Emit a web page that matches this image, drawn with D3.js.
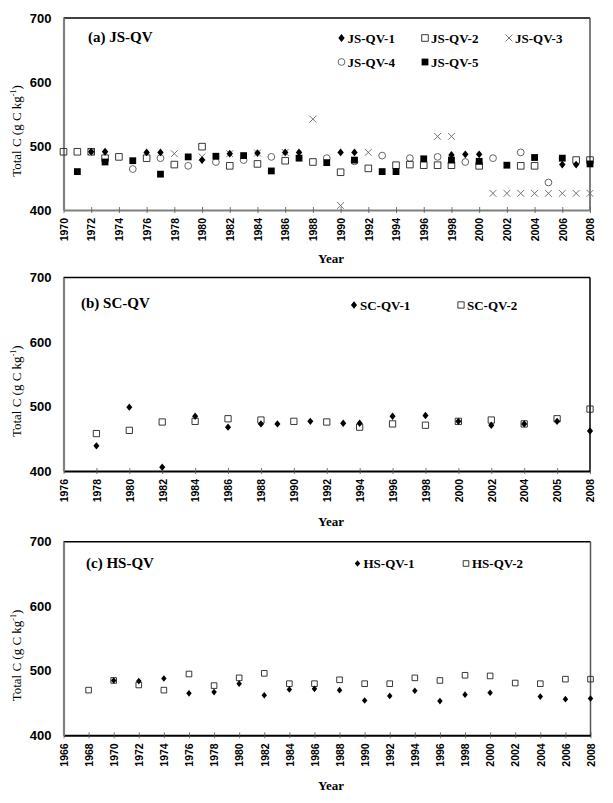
<!DOCTYPE html>
<html>
<head>
<meta charset="utf-8">
<script src="https://cdn.jsdelivr.net/npm/d3@7"></script>
<style>
  html, body { margin: 0; padding: 0; background: #fff; }
  svg { display: block; }
</style>
</head>
<body>
<svg id="chart" width="613" height="803"></svg>
<script>
// ---------- DATA ----------
// Panel (a) JS-QV
const jsQV1 = [[1972,491],[1973,491],[1976,490],[1977,490],[1980,478],[1982,488],[1984,489],[1986,490],[1987,490],[1990,490],[1991,490],[1998,486],[1999,487],[2000,487],[2006,471],[2007,471]];
const jsQV2 = [[1970,491],[1971,491],[1972,491],[1973,481],[1974,483],[1976,481],[1978,471],[1980,499],[1982,469],[1984,472],[1986,477],[1988,475],[1990,459],[1992,465],[1994,470],[1995,471],[1996,470],[1997,470],[1998,470],[2000,469],[2003,469],[2004,469],[2007,478],[2008,478]];
const jsQV3 = [[1972,491],[1978,488],[1980,483],[1982,488],[1984,489],[1986,490],[1988,542],[1990,407],[1992,490],[1997,515],[1998,515],[2001,426],[2002,426],[2003,426],[2004,426],[2005,426],[2006,426],[2007,426],[2008,426]];
const jsQV4 = [[1975,464],[1977,481],[1979,469],[1981,475],[1983,478],[1985,483],[1989,481],[1991,476],[1993,485],[1995,481],[1997,483],[1999,475],[2001,481],[2003,490],[2005,443]];
const jsQV5 = [[1971,460],[1973,475],[1975,477],[1977,456],[1979,483],[1981,484],[1983,485],[1985,461],[1987,481],[1989,474],[1991,478],[1993,460],[1994,460],[1996,480],[1998,478],[2000,476],[2002,470],[2004,482],[2006,481],[2008,472]];
// Panel (b) SC-QV
const scQV1 = [[1978,439],[1980,499],[1982,406],[1984,485],[1986,468],[1988,473],[1989,473],[1991,477],[1993,474],[1994,474],[1996,485],[1998,486],[2000,477],[2002,471],[2004,473],[2006,477],[2008,462]];
const scQV2 = [[1978,458],[1980,463],[1982,476],[1984,477],[1986,481],[1988,479],[1990,477],[1992,476],[1994,468],[1996,473],[1998,471],[2000,477],[2002,479],[2004,473],[2006,481],[2008,496]];
// Panel (c) HS-QV
const hsQV1 = [[1970,485],[1972,484],[1974,488],[1976,465],[1978,467],[1980,480],[1982,462],[1984,471],[1986,472],[1988,470],[1990,454],[1992,461],[1994,469],[1996,453],[1998,463],[2000,466],[2004,460],[2006,456],[2008,457]];
const hsQV2 = [[1968,470],[1970,485],[1972,478],[1974,470],[1976,495],[1978,477],[1980,489],[1982,496],[1984,480],[1986,480],[1988,486],[1990,480],[1992,480],[1994,489],[1996,485],[1998,493],[2000,492],[2002,481],[2004,480],[2006,487],[2008,487]];

// Tick labels
const yTicks = [400, 500, 600, 700];
const ticksA = ["1970","1972","1974","1976","1978","1980","1982","1984","1986","1988","1990","1992","1994","1996","1998","2000","2002","2004","2006","2008"];
const ticksB = ["1976","1978","1980","1982","1984","1986","1988","1990","1992","1994","1996","1998","2000","2002","2004","2005","2008"];
const ticksC = ["1966","1968","1970","1972","1974","1976","1978","1980","1982","1984","1986","1988","1990","1992","1994","1996","1998","2000","2002","2004","2006","2008"];

// ---------- SYMBOLS ----------
function diamondType(hw, hh) {
  return { draw(ctx) { ctx.moveTo(0,-hh); ctx.lineTo(hw,0); ctx.lineTo(0,hh); ctx.lineTo(-hw,0); ctx.closePath(); } };
}
function squareType(h) {
  return { draw(ctx) { ctx.moveTo(-h,-h); ctx.lineTo(h,-h); ctx.lineTo(h,h); ctx.lineTo(-h,h); ctx.closePath(); } };
}
function circleType(r) {
  return { draw(ctx) { ctx.moveTo(r,0); ctx.arc(0,0,r,0,2*Math.PI); } };
}
function xType(h) {
  return { draw(ctx) { ctx.moveTo(-h,-h); ctx.lineTo(h,h); ctx.moveTo(h,-h); ctx.lineTo(-h,h); } };
}
const styles = {
  diamond:  (s) => ({ type: diamondType(3.2*s, 3.9*s), fill: "#000", stroke: "none", sw: 0 }),
  osquare:  (s) => ({ type: squareType(3.3*s), fill: "none", stroke: "#222", sw: 0.9 }),
  fsquare:  (s) => ({ type: squareType(3.4*s), fill: "#000", stroke: "none", sw: 0 }),
  circle:   (s) => ({ type: circleType(3.4*s), fill: "none", stroke: "#555", sw: 0.9 }),
  cross:    (s) => ({ type: xType(3.4*s), fill: "none", stroke: "#666", sw: 0.9 })
};

const svg = d3.select("#chart");
const serif = "'Liberation Serif', 'Times New Roman', serif";
const sans = "'Liberation Sans', Arial, sans-serif";

function drawPanel(cfg) {
  const x = d3.scaleLinear().domain(cfg.xDomain).range([cfg.left, cfg.right]);
  const y = d3.scaleLinear().domain([400, 700]).range([cfg.bottom, cfg.top]);
  const g = svg.append("g");

  // top and right frame
  g.append("line").attr("x1", cfg.left).attr("x2", cfg.right).attr("y1", cfg.top).attr("y2", cfg.top)
    .attr("stroke", "#000").attr("stroke-width", 1.5);
  g.append("line").attr("x1", cfg.right).attr("x2", cfg.right).attr("y1", cfg.top).attr("y2", cfg.bottom)
    .attr("stroke", cfg.rightColor).attr("stroke-width", 1.5);

  // x axis
  const years = cfg.tickLabels.map((d, i) => cfg.xDomain[0] + 2 * i);
  const xAxis = d3.axisBottom(x).tickValues(years).tickFormat((d, i) => cfg.tickLabels[i]).tickSize(3).tickSizeOuter(0);
  const xg = g.append("g").attr("transform", `translate(0,${cfg.bottom})`).call(xAxis);
  xg.select(".domain").attr("stroke", cfg.bottomColor).attr("stroke-width", 2);
  xg.selectAll(".tick line").attr("stroke", "#555").attr("y1", -3).attr("y2", 3).attr("stroke-width", 0.8);
  xg.selectAll(".tick text")
    .attr("transform", "rotate(-90)")
    .attr("x", -8).attr("y", 0).attr("dy", "0.36em")
    .attr("text-anchor", "end")
    .attr("font-family", sans).attr("font-weight", "bold").attr("font-size", 10.5).attr("fill", "#000");

  // y axis
  const yAxis = d3.axisLeft(y).tickValues(yTicks).tickSize(0).tickPadding(12);
  const yg = g.append("g").attr("transform", `translate(${cfg.left},0)`).call(yAxis);
  yg.select(".domain").attr("stroke", "#808080").attr("stroke-width", 2.2);
  yg.selectAll(".tick text").attr("font-family", sans).attr("font-weight", "bold").attr("font-size", 13).attr("fill", "#000");

  // series
  cfg.series.forEach(s => {
    const st = styles[s.marker](cfg.scale);
    const sym = d3.symbol().type(st.type);
    g.append("g").selectAll("path").data(s.data).join("path")
      .attr("transform", d => `translate(${x(d[0])},${y(d[1])})`)
      .attr("d", sym)
      .attr("fill", st.fill).attr("stroke", st.stroke).attr("stroke-width", st.sw);
  });

  // title
  g.append("text").attr("x", cfg.titleX).attr("y", cfg.titleY).attr("font-family", serif)
    .attr("font-weight", "bold").attr("font-size", 15).text(cfg.title);

  // legend
  cfg.legend.forEach(l => {
    const st = styles[l.marker](cfg.scale);
    g.append("path").attr("transform", `translate(${l.x},${l.y})`).attr("d", d3.symbol().type(st.type))
      .attr("fill", st.fill).attr("stroke", st.stroke).attr("stroke-width", st.sw);
    g.append("text").attr("x", l.x + 6).attr("y", l.y).attr("dy", "0.35em").attr("font-family", serif)
      .attr("font-weight", "bold").attr("font-size", 13).text(l.label);
  });

  // y title
  const yt = g.append("text").attr("transform", `translate(16,${(cfg.top + cfg.bottom) / 2 + 17}) rotate(-90)`)
    .attr("text-anchor", "middle").attr("dy", "0.35em").attr("font-family", serif).attr("font-size", 13);
  yt.append("tspan").text("Total C (g C kg");
  yt.append("tspan").attr("font-size", 8).attr("dy", -5).text("-1");
  yt.append("tspan").attr("dy", 5).text(")");

  // x title
  g.append("text").attr("x", 331).attr("y", cfg.xTitleY).attr("dy", "0.35em").attr("text-anchor", "middle")
    .attr("font-family", serif).attr("font-weight", "bold").attr("font-size", 13).text("Year");
}

drawPanel({
  xDomain: [1970, 2008], left: 63.5, right: 590, top: 18, bottom: 210,
  rightColor: "#555", bottomColor: "#808080", scale: 1, tickLabels: ticksA,
  title: "(a) JS-QV", titleX: 88, titleY: 42, xTitleY: 258,
  series: [
    { data: jsQV3, marker: "cross" },
    { data: jsQV4, marker: "circle" },
    { data: jsQV2, marker: "osquare" },
    { data: jsQV5, marker: "fsquare" },
    { data: jsQV1, marker: "diamond" }
  ],
  legend: [
    { x: 341.5, y: 38, marker: "diamond", label: "JS-QV-1" },
    { x: 425, y: 38, marker: "osquare", label: "JS-QV-2" },
    { x: 509, y: 38, marker: "cross", label: "JS-QV-3" },
    { x: 341.5, y: 62, marker: "circle", label: "JS-QV-4" },
    { x: 425, y: 62, marker: "fsquare", label: "JS-QV-5" }
  ]
});

drawPanel({
  xDomain: [1976, 2008], left: 63.5, right: 590, top: 277.5, bottom: 471,
  rightColor: "#000", bottomColor: "#000", scale: 0.95, tickLabels: ticksB,
  title: "(b) SC-QV", titleX: 81, titleY: 308, xTitleY: 521,
  series: [
    { data: scQV2, marker: "osquare" },
    { data: scQV1, marker: "diamond" }
  ],
  legend: [
    { x: 354, y: 305, marker: "diamond", label: "SC-QV-1" },
    { x: 461, y: 305, marker: "osquare", label: "SC-QV-2" }
  ]
});

drawPanel({
  xDomain: [1966, 2008], left: 63.5, right: 590.5, top: 541.7, bottom: 735.3,
  rightColor: "#555", bottomColor: "#000", scale: 0.85, tickLabels: ticksC,
  title: "(c) HS-QV", titleX: 86, titleY: 568, xTitleY: 785,
  series: [
    { data: hsQV2, marker: "osquare" },
    { data: hsQV1, marker: "diamond" }
  ],
  legend: [
    { x: 357.5, y: 563.5, marker: "diamond", label: "HS-QV-1" },
    { x: 466, y: 563.5, marker: "osquare", label: "HS-QV-2" }
  ]
});
</script>
</body>
</html>
